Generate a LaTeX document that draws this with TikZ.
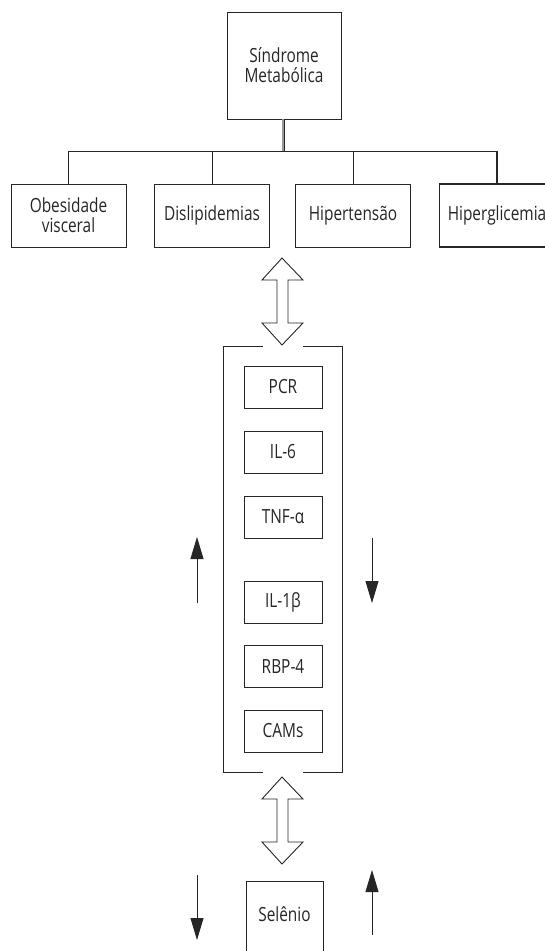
\documentclass[tikz,border=0pt]{standalone}
\usepackage{fontspec}
\setmainfont{Open Sans}[FakeStretch=0.79]
\usetikzlibrary{arrows.meta}
\tikzset{
  ln/.style={line width=0.9pt, draw=black!85},
  bx/.style={ln, rectangle, inner sep=0pt, align=center, text=black!85,
     font=\fontsize{19.5}{20}\selectfont},
  cat/.style={bx, minimum width=115pt, minimum height=63pt},
  mk/.style={bx, minimum width=78pt, minimum height=42pt},
  hollow/.style={ln, fill=white, line join=miter},
  solidarrow/.style={ln, -{Triangle[length=22pt,width=13pt]}}
}
\begin{document}
\begin{tikzpicture}[x=1pt,y=-1pt]
\useasboundingbox (0,0) rectangle (545,951);
\clip (0,0) rectangle (545,951);
% top
\node[bx, minimum width=114pt, minimum height=107pt] (sm) at (284,65.5) {Síndrome\\Metabólica};
\coordinate (j) at (283,151);
% categories
\node[cat] (ob) at (68.5,215.5) {Obesidade\\visceral};
\node[cat] (dis) at (212,215.5) {Dislipidemias};
\node[cat] (hip) at (353,215.5) {Hipertensão};
\node[cat, line width=1.6pt] (hg) at (497,215.5) {Hiperglicemia};
\draw[ln, double=black!40, double distance=1.6pt, line width=0.7pt] (sm.south -| j) -- (j);
\draw[ln] (ob.north |- j) -- (hg.north |- j);
\draw[ln] (ob.north) -- (ob.north |- j);
\draw[ln] (dis.north) -- (dis.north |- j);
\draw[ln] (hip.north) -- (hip.north |- j);
\draw[ln, line width=1.6pt] (hg.north) -- (hg.north |- j);
% top hollow double arrow
\draw[hollow] (282,258) -- (303,280) -- (288,280) -- (288,323) -- (303,323) -- (282,345)
  -- (262,323) -- (277,323) -- (277,280) -- (262,280) -- cycle;
% bracket
\draw[ln] (263,346) -- (223,346) -- (223,772) -- (263,772);
\draw[ln] (303,346) -- (342,346) -- (342,772) -- (303,772);
% markers
\node[mk] (pcr) at (283,387) {PCR};
\node[mk] (il6) at (283,452) {IL-6};
\node[mk] (tnf) at (283,517) {TNF-α};
\node[mk] (il1) at (283,602) {IL-1β};
\node[mk] (rbp) at (283,666.5) {RBP-4};
\node[mk] (cam) at (283,731) {CAMs};
% side arrows
\coordinate (lua) at (197,603); \coordinate (lub) at (197,537);
\coordinate (rda) at (372,538); \coordinate (rdb) at (372,603);
\draw[solidarrow] (lua) -- (lub);
\draw[solidarrow] (rda) -- (rdb);
% bottom hollow double arrow
\draw[hollow] (282,777) -- (303,799) -- (288,799) -- (288,842) -- (303,842) -- (282,864)
  -- (262,842) -- (277,842) -- (277,799) -- (262,799) -- cycle;
% selenio
\node[bx, minimum width=77pt, minimum height=79pt, text depth=12pt] (se) at (284.5,920.5) {Selênio};
\coordinate (lda) at (197,875); \coordinate (ldb) at (197,940);
\coordinate (rua) at (372,935); \coordinate (rub) at (372,870);
\draw[solidarrow] (lda) -- (ldb);
\draw[solidarrow] (rua) -- (rub);
\end{tikzpicture}
\end{document}
